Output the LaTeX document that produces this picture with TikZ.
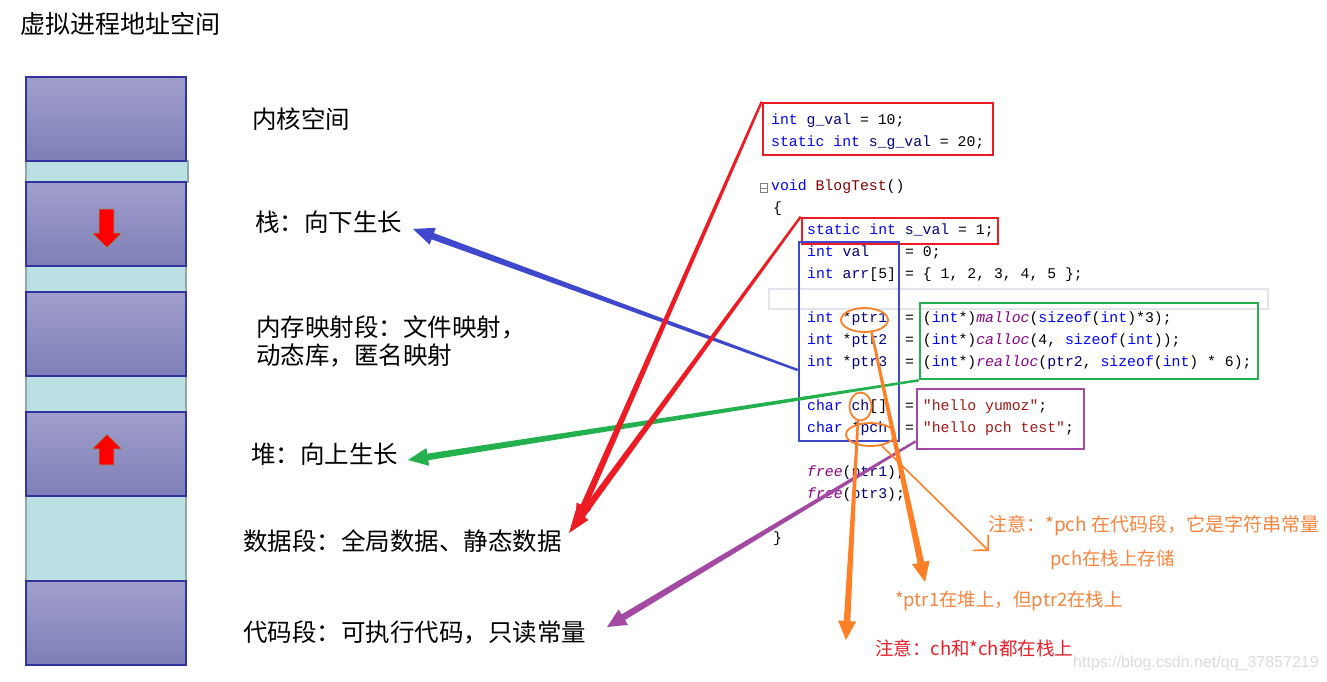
\documentclass[tikz,border=0pt]{standalone}
\usepackage{fontspec}
\setmainfont{Noto Sans CJK SC}
\newfontfamily\codefont{Liberation Mono}
\newfontfamily\webfont{Liberation Sans}
\usetikzlibrary{arrows.meta,shapes.geometric,calc}

\definecolor{segtop}{HTML}{A09FCB}
\definecolor{segbot}{HTML}{7F7FB8}
\definecolor{segline}{HTML}{3333A0}
\definecolor{gapfill}{HTML}{BBE0E3}
\definecolor{gapline}{HTML}{8FA8A8}
\definecolor{arrowedge}{HTML}{7F9A8A}
\definecolor{redink}{HTML}{ED1C24}
\definecolor{blueink}{HTML}{3F48CC}
\definecolor{greenink}{HTML}{22B14C}
\definecolor{purpleink}{HTML}{A349A4}
\definecolor{penorange}{HTML}{FF7F27}
\definecolor{noteorange}{HTML}{F5853F}
\definecolor{notered}{HTML}{E8202A}
\definecolor{hlgray}{HTML}{E4E4EE}
\definecolor{kwblue}{HTML}{0000FF}
\definecolor{varblue}{HTML}{000080}
\definecolor{fnred}{HTML}{880000}
\definecolor{apipurple}{HTML}{880088}
\definecolor{strred}{HTML}{A31515}

\newcommand{\ckw}[1]{\textcolor{kwblue}{#1}}
\newcommand{\cvar}[1]{\textcolor{varblue}{#1}}
\newcommand{\cfun}[1]{\textcolor{fnred}{#1}}
\newcommand{\ccall}[1]{\textcolor{apipurple}{\itshape #1}}
\newcommand{\cstr}[1]{\textcolor{strred}{#1}}

% hand drawn arrow: colour, from, tip, head half-width, head length
\newcommand{\penarrow}[5]{%
  \path (#3) coordinate (pentip) ($(#3)!#5!(#2)$) coordinate (penneck);
  \fill[#1] ($(#2)!1.2pt!90:(pentip)$) -- ($(penneck)!3.3pt!-90:(#2)$)
    -- ($(penneck)!#4!-90:(#2)$) -- (pentip) -- ($(penneck)!#4!90:(#2)$)
    -- ($(penneck)!3.3pt!90:(#2)$) -- ($(#2)!1.2pt!-90:(pentip)$) -- cycle;
}

\begin{document}
\begin{tikzpicture}[x=1pt, y=-1pt,
    seg/.style={draw=segline, line width=1.2, top color=segtop, bottom color=segbot,
                minimum width=160, minimum height=84, inner sep=0},
    gap/.style={draw=gapline, line width=1.2, fill=gapfill, minimum width=160, inner sep=0},
    seglabel/.style={anchor=west, inner sep=0, font=\fontsize{24.5}{29}\selectfont},
    code/.style={anchor=mid west, inner sep=0, font=\codefont\fontsize{14.8}{17}\selectfont},
    codeframe/.style={draw=#1, line width=2.6, inner sep=0},
    ring/.style={ellipse, draw=penorange, line width=1.8, inner sep=0},
    note/.style={anchor=west, inner sep=0, font=\fontsize{18.5}{22}\selectfont},
  ]
  \useasboundingbox (0,0) rectangle (1327,682);

  \node[seglabel, font=\fontsize{25}{30}\selectfont] (title) at (20,24) {虚拟进程地址空间};

  % address space column
  \node[gap, minimum width=162, minimum height=21] (gap1) at (107,171.5) {};
  \node[gap, minimum height=26] (gap2) at (106,279) {};
  \node[gap, minimum height=36] (gap3) at (106,394) {};
  \node[gap, minimum height=85] (gap4) at (106,538.5) {};
  \node[seg] (kernel) at (106,119) {};
  \node[seg] (stack) at (106,224) {};
  \node[seg] (mmap) at (106,334) {};
  \node[seg] (heap) at (106,454) {};
  \node[seg] (text) at (106,623) {};

  \fill[red, draw=arrowedge, line width=0.8] (99,209) -- (114,209) -- (114,233) -- (122,233)
    -- (107,248) -- (92,233) -- (99,233) -- cycle;
  \fill[red, draw=arrowedge, line width=0.8] (99,465) -- (114,465) -- (114,449) -- (122,449)
    -- (107,434) -- (92,449) -- (99,449) -- cycle;

  \node[seglabel] (kernellbl) at (252,119) {内核空间};
  \node[seglabel] (stacklbl) at (255,222) {栈：向下生长};
  \node[seglabel, align=left, font=\fontsize{24.5}{28}\selectfont] (mmaplbl) at (256,341)
    {内存映射段：文件映射，\\动态库，匿名映射};
  \node[seglabel] (heaplbl) at (251,454) {堆：向上生长};
  \node[seglabel] (datalbl) at (243,541) {数据段：全局数据、静态数据};
  \node[seglabel] (textlbl) at (243,632) {代码段：可执行代码，只读常量};

  % source code
  \node[draw=hlgray, line width=2, minimum width=499, minimum height=20] (curline) at (1018.5,299) {};
  \node[code] (l1) at (771,122) {\ckw{int} \cvar{g\_val} = 10;};
  \node[code] (l2) at (771,144) {\ckw{static} \ckw{int} \cvar{s\_g\_val} = 20;};
  \node[draw=gray, line width=0.6, minimum width=7, minimum height=9, inner sep=0] (fold) at (764,188) {};
  \draw[gray, line width=0.6] (fold.west) -- (fold.east);
  \node[code] (l3) at (771,188) {\ckw{void} \cfun{BlogTest}()};
  \node[code] (l4) at (773,210) {\{};
  \node[code] (l5) at (807,232) {\ckw{static} \ckw{int} \cvar{s\_val} = 1;};
  \node[code] (l6) at (807,254) {\ckw{int} \cvar{val}};
  \node[code] (e6) at (905,254) {= 0;};
  \node[code] (l7) at (807,276) {\ckw{int} \cvar{arr}[5]};
  \node[code] (e7) at (905,276) {= \{ 1, 2, 3, 4, 5 \};};
  \node[code] (l8) at (807,320) {\ckw{int} *\cvar{ptr1}};
  \node[code] (e8) at (905,320) {= (\ckw{int}*)\ccall{malloc}(\ckw{sizeof}(\ckw{int})*3);};
  \node[code] (l9) at (807,342) {\ckw{int} *\cvar{ptr2}};
  \node[code] (e9) at (905,342) {= (\ckw{int}*)\ccall{calloc}(4, \ckw{sizeof}(\ckw{int}));};
  \node[code] (l10) at (807,364) {\ckw{int} *\cvar{ptr3}};
  \node[code] (e10) at (905,364) {= (\ckw{int}*)\ccall{realloc}(\cvar{ptr2}, \ckw{sizeof}(\ckw{int}) * 6);};
  \node[code] (l11) at (807,408) {\ckw{char} \cvar{ch}[]};
  \node[code] (e11) at (905,408) {= \cstr{"hello yumoz"};};
  \node[code] (l12) at (807,430) {\ckw{char} *\cvar{pch}};
  \node[code] (e12) at (905,430) {= \cstr{"hello pch test"};};
  \node[code] (l13) at (807,474) {\ccall{free}(\cvar{ptr1});};
  \node[code] (l14) at (807,496) {\ccall{free}(\cvar{ptr3});};
  \node[code] (l15) at (773,540) {\}};

  % marked regions
  \node[codeframe=redink, minimum width=230, minimum height=52] (gbox) at (878,129) {};
  \node[codeframe=redink, minimum width=196, minimum height=26] (sbox) at (900,231) {};
  \node[codeframe=blueink, minimum width=100, minimum height=199] (localbox) at (849,341.5) {};
  \node[codeframe=greenink, minimum width=338, minimum height=76] (heapbox) at (1089,341) {};
  \node[codeframe=purpleink, minimum width=167, minimum height=60] (strbox) at (1000.5,419) {};
  \node[ring, minimum width=47, minimum height=24] (ptr1ring) at (864.5,320) {};
  \node[ring, minimum width=22, minimum height=28] (chring) at (860.5,406.5) {};
  \node[ring, minimum width=49, minimum height=23] (pchring) at (870.5,434.5) {};

  \coordinate (stacktip) at (413,229);
  \coordinate (heaptip) at (408,460);
  \coordinate (datatipa) at (575,526);
  \coordinate (datatipb) at (569,533);
  \coordinate (texttip) at (607,627);
  \coordinate (ptrtip) at (925,582);
  \coordinate (chtip) at (846,640);
  \coordinate (pchtip) at (989,551);
  \coordinate (bluefrom) at ([yshift=-28.5pt]localbox.west);
  \coordinate (purplefrom) at ([yshift=9pt]strbox.south west);

  % arrows to the segments
  \penarrow{blueink}{bluefrom}{stacktip}{9pt}{21pt}
  \penarrow{greenink}{heapbox.south west}{heaptip}{9pt}{20pt}
  \penarrow{redink}{gbox.north west}{datatipa}{8pt}{22pt}
  \penarrow{redink}{sbox.north west}{datatipb}{8pt}{22pt}
  \penarrow{purpleink}{purplefrom}{texttip}{9pt}{19pt}
  \penarrow{penorange}{ptr1ring.-60}{ptrtip}{9pt}{20pt}
  \penarrow{penorange}{chring.-100}{chtip}{9pt}{19pt}
  \draw[penorange, line width=1.6, -{Straight Barb[length=11pt, width=22pt]}] (pchring.-45) -- (pchtip);

  % notes
  \node[note, text=noteorange, font=\fontsize{19}{23}\selectfont] (pchnote) at (988,526) {注意：*pch 在代码段，它是字符串常量};
  \node[note, text=noteorange] (pchnote2) at (1050,560) {pch在栈上存储};
  \node[note, text=noteorange] (ptrnote) at (895,601) {*ptr1在堆上，但ptr2在栈上};
  \node[note, text=notered] (chnote) at (875,648) {注意：ch和*ch都在栈上};
  \node[note, text=black!14, font=\webfont\fontsize{16}{19}\selectfont] (website) at (1073,663) {https://blog.csdn.net/qq\_37857219};
\end{tikzpicture}
\end{document}
